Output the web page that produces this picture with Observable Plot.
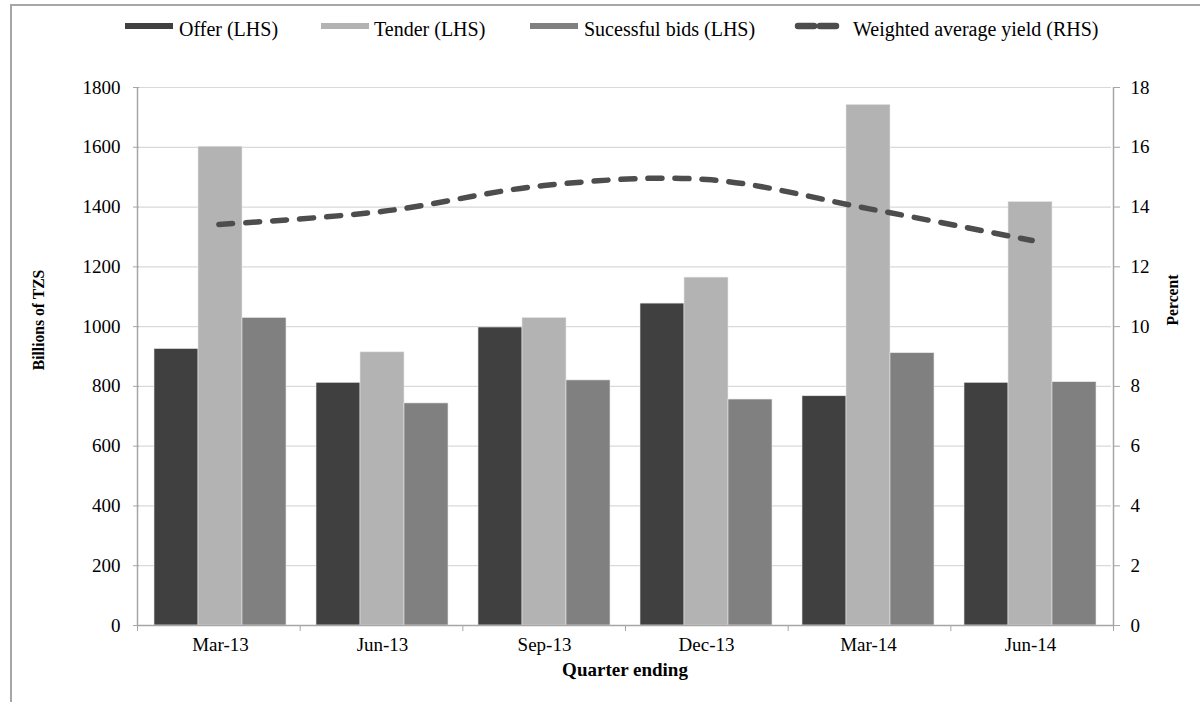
<!DOCTYPE html>
<html>
<head>
<meta charset="utf-8">
<script src="https://cdn.jsdelivr.net/npm/d3@7"></script>
<script src="https://cdn.jsdelivr.net/npm/@observablehq/plot@0.6"></script>
<style>
  html, body { margin: 0; padding: 0; background: #fff; }
  #wrap { position: relative; width: 1200px; height: 702px; overflow: hidden; font-family: "Liberation Serif", "Times New Roman", serif; }
  #wrap svg.layer { position: absolute; left: 0; top: 0; }
  #wrap svg.layer text { font-family: "Liberation Serif", "Times New Roman", serif; }
  #frame { position: absolute; left: 10px; top: 4px; width: 1300px; height: 800px; border-left: 2px solid #a6a6a6; border-top: 2px solid #a6a6a6; }
  .leg { position: absolute; font-size: 20px; color: #000; white-space: nowrap; line-height: 1; }
  .sw { position: absolute; height: 6px; width: 48px; }
  .title { position: absolute; font-weight: bold; font-size: 17px; color: #000; white-space: nowrap; line-height: 1; }
  g[aria-label^="y-axis"], g[aria-label^="x-axis"] { color: #a6a6a6; }
  g[aria-label^="y-axis"] text, g[aria-label^="x-axis"] text, g[aria-label^="fx-axis"] text { fill: #000; }
</style>
</head>
<body>
<div id="wrap">
  <div id="frame"></div>
</div>
<script>
const quarters = ["Mar-13", "Jun-13", "Sep-13", "Dec-13", "Mar-14", "Jun-14"];
const seriesNames = ["Offer (LHS)", "Tender (LHS)", "Sucessful bids (LHS)"];
const lineName = "Weighted average yield (RHS)";
const offer = [925, 812, 997, 1077, 767, 812];
const tender = [1602, 914, 1029, 1164, 1742, 1417];
const successful = [1029, 743, 820, 756, 911, 814];
const yieldPct = [13.42, 13.85, 14.72, 14.92, 13.94, 12.88];
const leftTicks = [0, 200, 400, 600, 800, 1000, 1200, 1400, 1600, 1800];
const rightTicks = [0, 2, 4, 6, 8, 10, 12, 14, 16, 18];
const barColors = ["#404040", "#b3b3b3", "#808080"];
const lineColor = "#4d4d4d";

const seriesValues = [offer, tender, successful];
const rows = [];
quarters.forEach((q, i) => seriesNames.forEach((s, j) => rows.push({quarter: q, series: s, value: seriesValues[j][i]})));
const lineRows = quarters.map((q, i) => ({quarter: q, idx: i, value: yieldPct[i]}));

const W = 1200, H = 702;
const M = {top: 87, bottom: 77, left: 137, right: 87};
const baseStyle = {fontFamily: "'Liberation Serif', 'Times New Roman', serif", fontSize: "19px", background: "transparent", color: "#000"};
const fmt = d3.format("d");

const plotA = Plot.plot({
  width: W, height: H,
  marginTop: M.top, marginBottom: M.bottom, marginLeft: M.left, marginRight: M.right,
  style: baseStyle,
  fx: {domain: quarters, padding: 0, axis: "bottom", label: null, tickSize: 0, tickPadding: 12},
  x: {domain: seriesNames, paddingInner: 0, paddingOuter: 0.333, axis: null},
  y: {domain: [0, 1800], ticks: leftTicks, tickFormat: fmt, tickSize: 6, tickPadding: 13, label: null},
  color: {domain: seriesNames, range: barColors},
  marks: [
    Plot.ruleY(leftTicks.slice(1), {stroke: "#d9d9d9", strokeWidth: 1.2}),
    Plot.barY(rows, {fx: "quarter", x: "series", y: "value", fill: "series", stroke: "#e8e8e8", strokeWidth: 0.6})
  ]
});
plotA.classList.add("layer");

const plotB = Plot.plot({
  width: W, height: H,
  marginTop: M.top, marginBottom: M.bottom, marginLeft: M.left, marginRight: M.right,
  style: baseStyle,
  x: {domain: [0, quarters.length], ticks: d3.range(quarters.length + 1), tickFormat: () => "", tickSize: 6, label: null, axis: "bottom"},
  y: {domain: [0, 18], ticks: rightTicks, tickFormat: fmt, axis: "right", tickSize: 6, tickPadding: 11, label: null},
  marks: [
    Plot.ruleX([0, quarters.length], {stroke: "#a6a6a6", strokeWidth: 1.5}),
    Plot.ruleY([0], {stroke: "#a6a6a6", strokeWidth: 1.5}),
    Plot.line(lineRows, {x: d => d.idx + 0.5, y: "value", curve: "catmull-rom", stroke: lineColor, strokeWidth: 5.5, strokeDasharray: "14,13", strokeLinecap: "round"})
  ]
});
plotB.classList.add("layer");

const wrap = document.getElementById("wrap");
wrap.appendChild(plotA);
wrap.appendChild(plotB);

// Legend
const legendItems = [
  {label: seriesNames[0], color: barColors[0], sx: 125, tx: 179},
  {label: seriesNames[1], color: barColors[1], sx: 321, tx: 374},
  {label: seriesNames[2], color: barColors[2], sx: 530, tx: 584},
];
legendItems.forEach(it => {
  const sw = document.createElement("div");
  sw.className = "sw";
  sw.style.left = it.sx + "px"; sw.style.top = "23px"; sw.style.background = it.color;
  wrap.appendChild(sw);
  const t = document.createElement("div");
  t.className = "leg"; t.textContent = it.label;
  t.style.left = it.tx + "px"; t.style.top = "19px";
  wrap.appendChild(t);
});
const dsw = document.createElementNS("http://www.w3.org/2000/svg", "svg");
dsw.setAttribute("width", 56); dsw.setAttribute("height", 14);
dsw.style.position = "absolute"; dsw.style.left = "791px"; dsw.style.top = "19px";
dsw.innerHTML = `<line x1="7" y1="7" x2="45" y2="7" stroke="${lineColor}" stroke-width="6.5" stroke-linecap="round" stroke-dasharray="16,6"/>`;
wrap.appendChild(dsw);
const lt = document.createElement("div");
lt.className = "leg"; lt.textContent = lineName;
lt.style.left = "853px"; lt.style.top = "19px";
wrap.appendChild(lt);

// Axis titles
const tl = document.createElement("div");
tl.className = "title"; tl.textContent = "Billions of TZS";
tl.style.left = "38px"; tl.style.top = "320px";
tl.style.transform = "translate(-50%, -50%) rotate(-90deg) scaleX(0.92)";
wrap.appendChild(tl);
const tr = document.createElement("div");
tr.className = "title"; tr.textContent = "Percent";
tr.style.left = "1172px"; tr.style.top = "300px";
tr.style.transform = "translate(-50%, -50%) rotate(-90deg) scaleX(0.92)";
wrap.appendChild(tr);
const tb = document.createElement("div");
tb.className = "title"; tb.textContent = "Quarter ending";
tb.style.left = "625px"; tb.style.top = "669px"; tb.style.fontSize = "19px";
tb.style.transform = "translate(-50%, -50%)";
wrap.appendChild(tb);
</script>
</body>
</html>
